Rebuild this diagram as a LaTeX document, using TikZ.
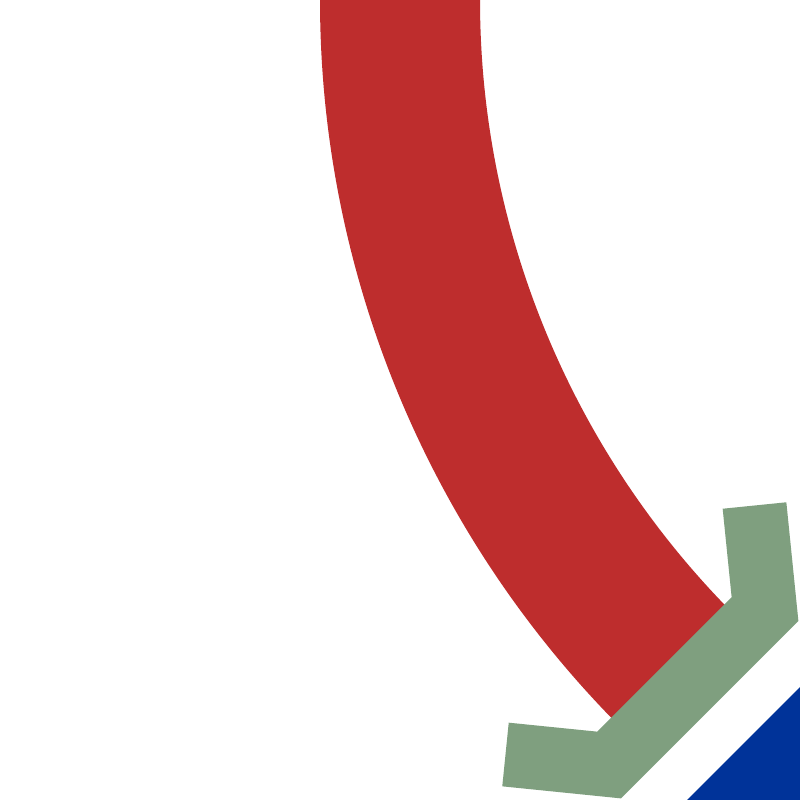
\documentclass[tikz,border=0pt]{standalone}
\definecolor{shaftred}{RGB}{190,45,45}
\definecolor{headgreen}{RGB}{127,159,127}
\definecolor{cornerblue}{RGB}{0,51,153}
\tikzset{
  shaft/.style={draw=shaftred, line width=160pt, line cap=butt},
  chevron/.style={draw=headgreen, line width=64pt, line join=miter, line cap=butt},
  corner/.style={fill=cornerblue, draw=none}
}
\begin{document}
\begin{tikzpicture}[x=1pt,y=1pt]
\useasboundingbox (0,0) rectangle (800,-800);
\clip (0,0) rectangle (800,-800);
\fill[white] (0,0) rectangle (800,-800);
\draw[shaft] (400,2) -- (400,0) arc[start angle=180, end angle=227, radius=950];
\draw[chevron] (754.5,-505.5) -- (765,-609) -- (609,-765) -- (505.5,-754.5);
\fill[corner] (687,-800) -- (800,-687) -- (800,-800) -- cycle;
\end{tikzpicture}
\end{document}
